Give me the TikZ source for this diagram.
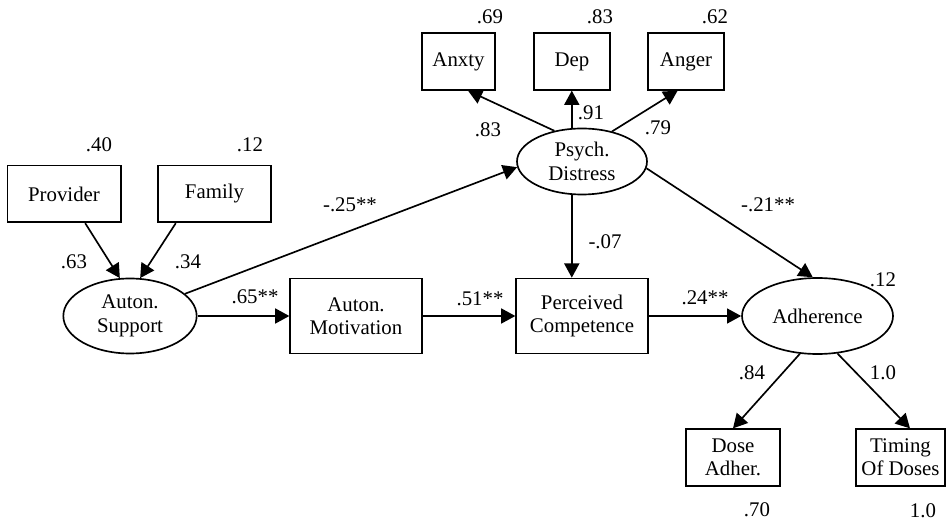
\documentclass[tikz,border=0pt]{standalone}
\usepackage{fontspec}
\setmainfont{Liberation Serif}
\usetikzlibrary{shapes.geometric,arrows.meta,positioning,calc}

\begin{document}
\begin{tikzpicture}[x=0.6pt, y=-0.6pt, font=\fontsize{12.5}{14}\selectfont,
        obs/.style={draw, line width=1pt, rectangle, inner sep=1pt, align=center},
        lat/.style={draw, line width=1pt, ellipse, inner sep=0pt, align=center},
        link/.style={line width=1pt, -{Triangle[length=8.5pt,width=9pt]}},
        coef/.style={inner sep=0pt}]
        \useasboundingbox (0,0) rectangle (947,526);

        % Autonomy support and its indicators
        \node[obs, minimum width=68pt, minimum height=34pt] (prov) at (64,194) {Provider};
        \node[obs, minimum width=68pt, minimum height=34pt] (fam) at (214.5,194) {Family};
        \node[lat, minimum width=80pt, minimum height=45pt] (asup) at (130,316) {Auton.\\Support};

        % Middle row
        \node[obs, minimum width=79pt, minimum height=45pt] (amot) at (356,316) {Auton.\\Motivation};
        \node[obs, minimum width=79pt, minimum height=45pt] (perc) at (582,316) {Perceived\\Competence};
        \node[lat, minimum width=90.6pt, minimum height=45.6pt] (adh) at (817.5,316) {Adherence};

        % Psychological distress and its indicators
        \node[lat, minimum width=78pt, minimum height=39.6pt] (psy) at (582,161.5) {Psych.\\Distress};
        \node[obs, minimum width=44pt, minimum height=34pt] (anx) at (458.5,61.5) {Anxty};
        \node[obs, minimum width=45.6pt, minimum height=34pt] (dep) at (572,61.5) {Dep};
        \node[obs, minimum width=45.6pt, minimum height=34pt] (ang) at (686,61.5) {Anger};

        % Adherence indicators
        \node[obs, minimum width=56.4pt, minimum height=34pt] (dose) at (733,457.5) {Dose\\Adher.};
        \node[obs, minimum width=53.4pt, minimum height=34pt] (tim) at (900.5,457.5) {Timing\\Of Doses};

        % Paths
        \draw[link] (prov.-54) -- (asup.105);
        \draw[link] (fam.-143) -- (asup.75);
        \draw[link] (asup.east) -- (amot.west);
        \draw[link] (amot.east) -- (perc.west);
        \draw[link] (perc.east) -- (adh.west);
        \draw[link] (asup.22) -- (psy.185);
        \draw[link] (psy.253) -- (psy.253 |- perc.north);
        \draw[link] (psy.-6) -- (adh.97);
        \draw[link] (psy.132) -- (anx.-72);
        \draw[link] (psy.107) -- (psy.107 |- dep.south);
        \draw[link] (psy.45) -- (ang.-106);
        \draw[link] (adh.-115) -- (dose.north);
        \draw[link] (adh.-62) -- (tim.72);

        % Residual variances
        \node[coef] (r1) at (99,145) {.40};
        \node[coef] (r2) at (250,145) {.12};
        \node[coef] (r3) at (490,17) {.69};
        \node[coef] (r4) at (600,17) {.83};
        \node[coef] (r5) at (715,17) {.62};
        \node[coef] (r6) at (883,280) {.12};
        \node[coef] (r7) at (757,510) {.70};
        \node[coef] (r8) at (923,511) {1.0};

        % Path coefficients
        \node[coef] (c1) at (74,262) {.63};
        \node[coef] (c2) at (188,262) {.34};
        \node[coef] (c3) at (255,297) {.65**};
        \node[coef] (c4) at (480,299) {.51**};
        \node[coef] (c5) at (705,298) {.24**};
        \node[coef] (c6) at (350,205) {-.25**};
        \node[coef] (c7) at (605,242) {-.07};
        \node[coef] (c8) at (768,205) {-.21**};
        \node[coef] (c9) at (488,130) {.83};
        \node[coef] (c10) at (591,113) {.91};
        \node[coef] (c11) at (658,128) {.79};
        \node[coef] (c12) at (752,373) {.84};
        \node[coef] (c13) at (883,373) {1.0};
    \end{tikzpicture}
\end{document}
